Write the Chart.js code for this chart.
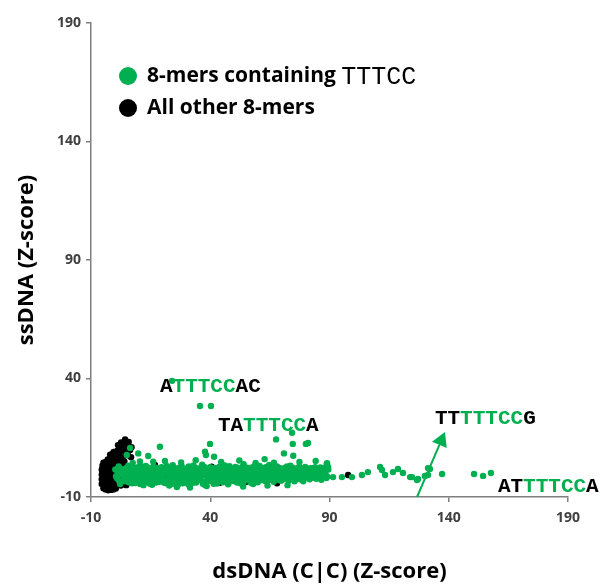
<!DOCTYPE html>
<html>
<head>
<meta charset="utf-8">
<script src="https://cdn.jsdelivr.net/npm/chart.js@4"></script>
<style>
  html, body { margin: 0; padding: 0; background: #fff; }
  #wrap { width: 600px; height: 586px; }
</style>
</head>
<body>
<div id="wrap"><canvas id="scatterChart" width="600" height="586"></canvas></div>
<script>
// 8-mers containing TTTCC (green)
const tttccPoints = [
  [0.5,-1.2],[1.2,0.8],[1.8,-3.1],[2.4,1.9],[2.9,-0.4],[3.5,-2.6],[4.1,0.3],[4.6,2.2],[5.2,-1.5],[5.8,-3.8],
  [6.3,0.9],[6.9,-0.8],[7.4,1.7],[8.0,-2.2],[8.6,-4.1],[9.1,0.1],[9.7,2.6],[10.2,-1.0],
  [10.8,-3.3],[11.3,1.2],[11.9,-0.3],[12.5,-2.4],[13.0,3.1],[13.6,0.6],[14.2,-1.7],[14.7,-4.4],[15.3,1.8],
  [15.8,-0.9],[16.4,-2.9],[17.0,0.4],[17.5,2.3],[18.1,-1.4],[18.7,-3.6],[19.2,1.0],[19.8,-0.2],
  [20.3,-2.7],[20.9,2.0],[21.5,-4.2],[22.0,0.2],[22.6,-1.3],[23.1,1.5],[23.7,-3.0],[24.3,3.4],[24.8,-0.6],
  [25.4,-2.1],[26.0,0.9],[26.5,-4.8],[27.1,2.4],[27.6,-1.1],[28.2,0.5],[28.8,-3.4],[29.3,1.7],
  [29.9,-0.5],[30.4,-2.5],[31.0,2.9],[31.6,0.1],[32.1,-1.6],[32.7,-4.0],[33.2,1.3],[33.8,-0.9],[34.4,2.1],
  [34.9,-2.8],[35.5,0.6],[36.0,-1.4],[36.6,3.6],[37.2,-3.7],[37.7,0.2],[38.3,1.9],[38.9,-2.0],[39.4,-0.3],
  [40.0,2.6],[40.5,-3.2],[41.1,0.9],[41.7,-1.2],[42.2,1.6],[42.8,-4.3],[43.3,-0.2],[43.9,2.8],[44.5,-2.3],
  [45.0,0.4],[45.6,-1.0],[46.1,3.3],[46.7,-3.5],[47.3,1.1],[47.8,-0.7],[48.4,2.2],[48.9,-2.6],[49.5,0.0],
  [50.1,-1.5],[50.6,2.7],[51.2,-3.9],[51.8,0.8],[52.3,-0.6],[52.9,1.9],[53.4,-2.2],[54.0,3.8],[54.6,0.3],
  [55.1,-1.8],[55.7,1.4],[56.2,-3.0],[56.8,-0.1],[57.4,2.5],[57.9,-1.3],[58.5,0.7],[59.0,-2.7],[59.6,1.6],
  [60.2,-0.4],[60.7,3.1],[61.3,-1.9],[61.9,0.5],[62.4,2.0],[63.0,-3.3],[63.5,-0.8],[64.1,1.2],[64.7,3.5],
  [65.2,-1.6],[65.8,0.2],[66.3,-2.4],[66.9,1.8],[67.5,-0.5],[68.0,2.9],[68.6,-1.2],[69.1,0.6],[69.7,-3.1],
  [70.3,1.5],[70.8,-0.7],[71.4,2.4],[72.0,-2.0],[72.5,0.9],[73.1,-0.2],[73.6,3.2],[74.2,-1.5],[74.8,1.1],
  [75.3,-3.4],[75.9,0.3],[76.4,2.2],[77.0,-1.0],[77.6,0.7],[78.1,-2.6],[78.7,1.9],[79.2,-0.3],[79.8,2.7],
  [80.5,-1.8],[81.3,0.5],[82.0,2.1],[82.8,-0.9],[83.6,1.4],[84.5,-2.3],[85.3,0.2],[86.1,2.5],[87.0,-1.1],
  [87.8,0.8],[88.7,-2.0],[89.5,1.6],
  [0.2,1.6],[1.0,-2.2],[1.6,2.9],[2.2,-4.5],[3.0,0.9],[3.8,-1.0],[4.4,-3.4],[5.0,1.3],[5.6,3.2],[6.1,-2.0],
  [6.7,-0.1],[7.2,-4.2],[7.8,2.5],[8.4,0.4],[9.0,-2.8],[9.5,-0.6],[10.0,1.7],
  [10.6,-4.5],[11.1,3.0],[11.7,-1.9],[12.3,0.9],[12.8,-3.6],[13.4,-0.7],[14.0,2.4],[14.5,-2.5],[15.1,0.0],
  [15.6,-4.8],[16.2,2.9],[16.8,-1.2],[17.3,-3.9],[17.9,1.3],[18.5,0.5],[19.0,-2.1],[19.6,2.6],
  [20.1,-0.8],[20.7,-4.0],[21.2,1.2],[21.8,3.1],[22.4,-2.6],[22.9,-0.1],[23.5,2.3],[24.0,-4.4],[24.6,0.8],
  [25.2,-1.5],[25.7,2.0],[26.3,-3.2],[26.9,0.1],[27.4,-2.3],[28.0,3.0],[28.5,-4.2],[29.1,-1.5],[29.7,0.9],
  [30.2,2.0],[30.8,-4.6],[31.3,-1.0],[31.9,1.4],[32.5,-2.9],[33.0,3.3],[33.6,0.3],[34.1,-3.9],[34.7,-0.5],
  [35.3,1.8],[35.8,-2.4],[36.4,0.7],[36.9,-4.4],[37.5,2.7],[38.1,-1.0],[38.6,0.6],[39.2,-3.3],[39.7,1.5],
  [40.3,-1.6],[40.8,0.2],[41.4,-4.4],[42.0,2.3],[42.5,-2.7],[43.1,1.1],[43.6,-1.4],[44.2,0.4],[44.8,3.1],
  [45.3,-3.8],[45.9,1.7],[46.4,-2.0],[47.0,0.0],[47.6,-4.2],[48.1,3.0],[48.7,-1.5],[49.2,1.3],[49.8,-3.3],
  [50.4,0.6],[50.9,-2.8],[51.5,2.3],[52.0,-1.2],[52.6,-4.2],[53.2,0.3],[53.7,2.8],[54.3,-3.2],[54.9,-0.9],
  [55.4,2.4],[56.0,-1.6],[56.5,0.8],[57.1,-4.0],[57.7,1.7],[58.2,-2.4],[58.8,3.3],[59.3,-0.7],[59.9,-3.8],
  [60.5,2.2],[61.0,-2.9],[61.6,1.4],[62.2,-0.9],[62.7,-2.6],[63.3,2.6],[63.8,0.6],[64.4,-2.9],[65.0,1.2],
  [65.5,-0.5],[66.1,2.8],[66.6,-3.6],[67.2,0.8],[67.8,-1.8],[68.3,1.6],[68.9,-2.8],[69.4,2.2],[70.0,-0.6],
  [70.6,-2.5],[71.1,0.4],[71.7,-1.3],[72.2,2.9],[72.8,-3.1],[73.4,1.6],[73.9,-0.8],[74.5,2.4],[75.0,-1.9],
  [75.6,1.3],[76.2,-2.5],[76.7,0.2],[77.3,2.8],[77.8,-1.6],[78.4,0.3],[79.0,-3.4],[79.5,1.0],[80.1,-0.9],
  [80.9,1.8],[81.7,-2.5],[82.4,0.0],[83.2,-1.9],[84.0,2.6],[84.9,-0.4],[85.7,1.1],[86.6,-2.7],[87.4,2.2],
  [88.3,-0.2],[89.1,-1.4],
  [21.0,5.2],[27.8,4.6],[33.9,5.5],[44.6,4.8],[52.2,5.4],[59.0,4.4],[62.8,6.0],[77.4,4.8],[84.2,5.2],
  [10.5,5.0],[7.5,4.4],[26.0,-5.8],[31.5,-6.0],[53.8,-5.6],[64.0,-5.2],[72.4,-5.0],
  [83.1,2.2],[85.2,-0.7],[89.0,4.3],[89.4,2.7],[91.5,-1.6],[95.2,-1.6],[99.4,-1.6],[103.6,-0.7],[106.1,0.5],
  [111.2,2.7],[112.0,1.4],[113.3,-0.7],[116.6,0.5],[118.7,1.8],[120.8,0.1],[123.8,-1.6],[124.6,-1.6],
  [126.7,-2.8],[127.1,-2.4],[130.0,-1.1],[131.3,2.2],[131.3,-0.7],[132.1,1.8],[137.2,-0.3],[150.6,-0.3],
  [154.4,-1.1],[157.7,0.1],
  [24.0,39.0],[35.7,28.4],[40.3,28.4],
  [39.9,12.4],[37.8,9.1],[38.2,7.7],[41.6,7.0],[67.6,14.3],[74.3,17.1],[74.6,12.4],[80.1,12.4],[81.0,12.8],
  [70.9,8.4],[74.8,7.4],[66.7,4.5],[88.8,3.9],[18.9,11.2],[9.8,8.4],[14.0,7.3],[5.0,7.7],[16.1,4.9],[6.4,10.7],
  [37.8,-4.9],[38.5,-5.4],[12.0,-5.0],[22.8,-5.2],[47.5,-4.6],[58.0,-4.5]
];

// All other 8-mers (black)
const otherPoints = [
  [4.3,14.3],[1.3,11.9],[5.5,11.5],[6.4,9.8],[3.0,10.5],[-0.5,9.0],[2.0,8.6],[4.5,8.2],[0.5,7.0],[-1.5,6.8],
  [3.2,6.5],[-2.6,5.5],[-0.2,5.2],[1.8,4.9],
  [-2.0,7.8],[-1.0,8.2],[0.0,8.8],[1.0,9.5],[2.2,10.2],[3.5,12.5],[2.6,13.0],[5.8,13.2],[7.0,11.0],[4.0,9.6],
  [5.5,7.6],[1.2,6.2],[-1.2,6.0],[2.8,5.6],[4.0,5.0],[6.8,6.8],[3.6,3.5],[2.3,3.8],
  [-5.5,-4.5],[-5.5,-2.5],[-5.5,-0.5],[-5.5,1.5],[-5.2,3.2],[-4.8,-6.3],[-4.8,4.5],[-3.8,4.8],[-3.0,5.8],
  [-3.9,-6.8],[-2.8,-7.2],[-1.6,-7.0],[-0.6,-6.8],[0.4,-6.4],
  [-4.6,-3.5],[-4.6,-1.8],[-4.6,0.0],[-4.6,1.6],
  [-4.0,-5.0],[-4.0,-2.7],[-4.0,-0.9],[-4.0,0.9],[-4.0,2.6],
  [-3.3,-5.8],[-3.3,-4.1],[-3.3,-2.2],[-3.3,-0.3],[-3.3,1.5],[-3.3,3.4],
  [-2.5,-6.2],[-2.5,-4.6],[-2.5,-3.0],[-2.5,-1.3],[-2.5,0.4],[-2.5,2.2],[-2.5,4.0],
  [-1.7,-5.6],[-1.7,-3.7],[-1.7,-2.0],[-1.7,-0.2],[-1.7,1.4],[-1.7,3.1],[-1.7,4.8],
  [-0.9,-6.0],[-0.9,-4.4],[-0.9,-2.6],[-0.9,-0.8],[-0.9,1.0],[-0.9,2.7],[-0.9,4.3],
  [-0.1,-5.3],[-0.1,-3.5],[-0.1,-1.6],[-0.1,0.3],[-0.1,2.0],[-0.1,3.8],
  [0.7,-4.6],[0.7,-2.4],[0.7,-0.5],[0.7,1.3],[0.7,3.2],
  [1.5,-3.8],[1.5,-1.2],[1.5,0.8],[1.5,2.5],[2.5,-2.0],[2.5,0.2],
  [2.5,-5.2],[3.6,-4.6],[4.8,-5.0],[3.2,-2.8],
  [8.2,-2.0],[12.5,0.5],[16.8,3.5],[17.0,-3.2],[21.4,-1.0],[25.2,1.4],[26.8,1.2],[30.2,-3.6],[33.5,-0.2],
  [39.9,-3.2],[40.6,2.8],[44.0,-4.0],[49.0,1.8],[55.1,-3.6],[61.3,-2.5],[68.0,-4.2],[75.4,1.6],[78.9,-1.7],
  [97.8,-0.7]
];

// axis ticks
const xTicks = [-10, 40, 90, 140, 190];
const yTicks = [-10, 40, 90, 140, 190];

// sequence labels: [text pieces], left x, middle y (data units)
const seqLabels = [
  { parts: ['A', 'TTTCC', 'AC'], x: 18.9, y: 36.4 },
  { parts: ['TA', 'TTTCC', 'A'], x: 43.2, y: 20.0 },
  { parts: ['TT', 'TTTCC', 'G'], x: 134.2, y: 22.9 },
  { parts: ['AT', 'TTTCC', 'A'], x: 160.6, y: -5.8 }
];
const arrowFrom = [126.7, -10];
const arrowTo = [138.4, 17.4];

const GREEN = '#00B050';
const SANS = '"Open Sans", "Noto Sans", sans-serif';
const MONO = '"Liberation Mono", "DejaVu Sans Mono", monospace';

const overlayPlugin = {
  id: 'overlay',
  afterDatasetsDraw(chart) {
    const ctx = chart.ctx;
    const xs = chart.scales.x;
    const ys = chart.scales.y;
    const area = chart.chartArea;
    ctx.save();

    // arrow
    const x1 = xs.getPixelForValue(arrowFrom[0]), y1 = ys.getPixelForValue(arrowFrom[1]);
    const x2 = xs.getPixelForValue(arrowTo[0]), y2 = ys.getPixelForValue(arrowTo[1]);
    const ang = Math.atan2(y2 - y1, x2 - x1);
    const headLen = 14, headHalf = 8;
    const bx = x2 - headLen * Math.cos(ang), by = y2 - headLen * Math.sin(ang);
    ctx.strokeStyle = GREEN;
    ctx.lineWidth = 2;
    ctx.beginPath();
    ctx.moveTo(x1, y1);
    ctx.lineTo(bx, by);
    ctx.stroke();
    ctx.fillStyle = GREEN;
    ctx.beginPath();
    ctx.moveTo(x2, y2);
    ctx.lineTo(bx + headHalf * Math.sin(ang), by - headHalf * Math.cos(ang));
    ctx.lineTo(bx - headHalf * Math.sin(ang), by + headHalf * Math.cos(ang));
    ctx.closePath();
    ctx.fill();

    // sequence labels
    ctx.font = 'bold 21px ' + MONO;
    ctx.textBaseline = 'middle';
    ctx.textAlign = 'left';
    seqLabels.forEach(lab => {
      let px = xs.getPixelForValue(lab.x);
      const py = ys.getPixelForValue(lab.y);
      lab.parts.forEach((p, i) => {
        ctx.fillStyle = i === 1 ? GREEN : '#000';
        ctx.fillText(p, px, py);
        px += ctx.measureText(p).width;
      });
    });

    // legend
    const lx = area.left + 37;
    const ly1 = area.top + 53;
    const ly2 = area.top + 85;
    ctx.fillStyle = GREEN;
    ctx.beginPath(); ctx.arc(lx, ly1, 9, 0, Math.PI * 2); ctx.fill();
    ctx.fillStyle = '#000';
    ctx.beginPath(); ctx.arc(lx, ly2, 9, 0, Math.PI * 2); ctx.fill();
    ctx.font = 'bold 21px ' + SANS;
    ctx.fillText('8-mers containing ', lx + 19, ly1);
    const w = ctx.measureText('8-mers containing ').width;
    ctx.font = '25px ' + MONO;
    ctx.fillText('TTTCC', lx + 19 + w, ly1 + 1);
    ctx.font = 'bold 21px ' + SANS;
    ctx.fillText('All other 8-mers', lx + 19, ly2);
    ctx.restore();
  }
};

document.addEventListener('DOMContentLoaded', function () {
  const toXY = arr => arr.map(p => ({ x: p[0], y: p[1] }));
  const tickFont = { family: SANS, size: 14, weight: 'bold' };
  const titleFont = { family: SANS, size: 22, weight: 'bold' };

  new Chart(document.getElementById('scatterChart'), {
    type: 'scatter',
    data: {
      datasets: [
        {
          label: '8-mers containing TTTCC',
          data: toXY(tttccPoints),
          backgroundColor: GREEN,
          borderWidth: 0,
          pointRadius: 3.2,
          pointHoverRadius: 3.2
        },
        {
          label: 'All other 8-mers',
          data: toXY(otherPoints),
          backgroundColor: '#000',
          borderWidth: 0,
          pointRadius: 3.2,
          pointHoverRadius: 3.2
        }
      ]
    },
    options: {
      responsive: false,
      animation: false,
      layout: { padding: { left: 0, top: 23, right: 32, bottom: 0 } },
      plugins: { legend: { display: false }, tooltip: { enabled: false } },
      scales: {
        x: {
          type: 'linear',
          min: -10, max: 190,
          afterBuildTicks: s => { s.ticks = xTicks.map(v => ({ value: v })); },
          afterFit: s => { s.height = 89; },
          grid: { drawOnChartArea: false, drawTicks: true, tickLength: 5, color: '#7f7f7f', lineWidth: 1.5 },
          border: { color: '#7f7f7f', width: 1.5 },
          ticks: { font: tickFont, color: '#404040', padding: 8, maxRotation: 0 },
          title: { display: true, text: 'dsDNA (C|C) (Z-score)', font: titleFont, color: '#000', padding: { top: 0, bottom: 1 } }
        },
        y: {
          type: 'linear',
          min: -10, max: 190,
          afterBuildTicks: s => { s.ticks = yTicks.map(v => ({ value: v })); },
          afterFit: s => { s.width = 91; },
          grid: { drawOnChartArea: false, drawTicks: true, tickLength: 5, color: '#7f7f7f', lineWidth: 1.5 },
          border: { color: '#7f7f7f', width: 1.5 },
          ticks: { font: tickFont, color: '#404040', padding: 5 },
          title: { display: true, text: 'ssDNA (Z-score)', font: titleFont, color: '#000', padding: { top: 14, bottom: 0 } }
        }
      }
    },
    plugins: [overlayPlugin]
  });
});
</script>
</body>
</html>
